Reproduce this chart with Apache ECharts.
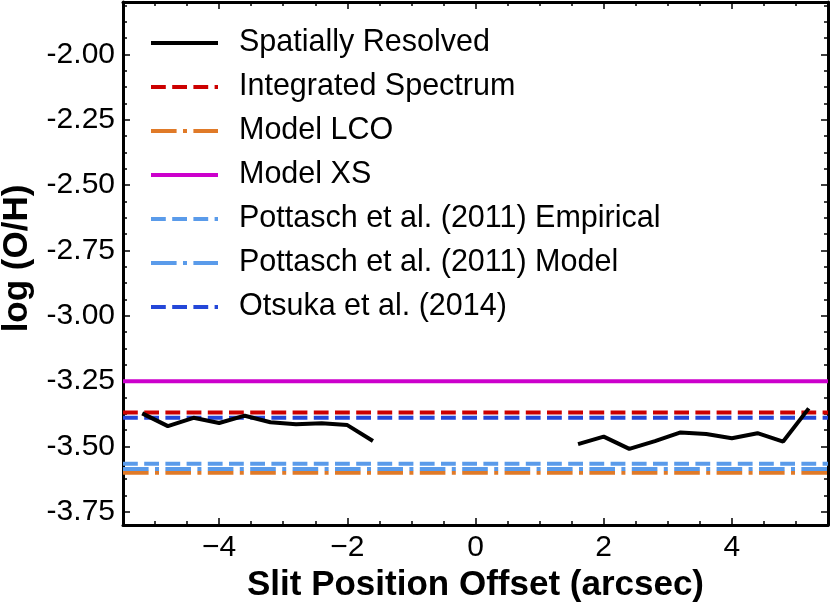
<!DOCTYPE html>
<html>
<head>
<meta charset="utf-8">
<script src="https://cdn.jsdelivr.net/npm/echarts@6/dist/echarts.min.js"></script>
<style>
html,body{margin:0;padding:0;background:#fff;}
#chart{width:831px;height:606px;}
</style>
</head>
<body>
<div id="chart"></div>
<script>
// ---- data ----
const offsetsLeft  = [-5.2, -4.8, -4.4, -4.0, -3.6, -3.2, -2.8, -2.4, -2.0, -1.6];
const logOHLeft    = [-3.373, -3.422, -3.390, -3.410, -3.382, -3.407, -3.415, -3.411, -3.418, -3.479];
const offsetsRight = [1.6, 2.0, 2.4, 2.8, 3.2, 3.6, 4.0, 4.4, 4.8, 5.2];
const logOHRight   = [-3.491, -3.462, -3.509, -3.479, -3.446, -3.452, -3.468, -3.449, -3.481, -3.354];

const refNames  = ['Integrated Spectrum', 'Model LCO', 'Model XS', 'Pottasch et al. (2011) Empirical', 'Pottasch et al. (2011) Model', 'Otsuka et al. (2014)'];
const refValues = [-3.37, -3.60, -3.25, -3.566, -3.586, -3.39];

const xTicks = [-4, -2, 0, 2, 4];
const yTicks = [-3.75, -3.50, -3.25, -3.00, -2.75, -2.50, -2.25, -2.00];
const xRange = [-5.5, 5.5];
const yRange = [-3.8, -1.8];

// ---- styles ----
const FONT = '"Liberation Sans", Arial, Helvetica, sans-serif';
const refColors = ['#cc0000', '#e07a28', '#cc00cc', '#5a9bea', '#5a9bea', '#2447d8'];
const LW = 4;
const dashed = [3.7 * LW, 1.6 * LW];
const dashdot = [6.4 * LW, 1.6 * LW, 1 * LW, 1.6 * LW];
const refTypes = [dashed, dashdot, 'solid', dashed, dashdot, dashed];

// minor tick positions
const xMinor = [];
for (let k = -11; k <= 11; k++) { const v = k * 0.5; if (v >= xRange[0] && v <= xRange[1] && xTicks.indexOf(v) < 0) xMinor.push(v); }
const yMinor = [];
for (let k = -64; k <= -28; k++) { const v = k * 0.0625; if (v >= yRange[0] - 1e-9 && v <= yRange[1] + 1e-9 && !yTicks.some(t => Math.abs(t - v) < 1e-9)) yMinor.push(v); }

const fmtX = v => (v < 0 ? '\u2212' + Math.abs(v) : String(v));
const fmtY = v => v.toFixed(2);

function mkX(pos, vals, major, showLine, showLabel) {
  return {
    type: 'value', position: pos, min: xRange[0], max: xRange[1],
    axisLine: { show: showLine, onZero: false, lineStyle: { color: '#000', width: 3 } },
    axisTick: { show: true, inside: true, length: major ? 7 : 4, customValues: vals, lineStyle: { color: '#000', width: 1.5 } },
    axisLabel: showLabel ? { show: true, customValues: vals, formatter: fmtX, color: '#000', fontSize: 30, fontFamily: FONT, margin: 8, hideOverlap: false } : { show: false },
    splitLine: { show: false }
  };
}
function mkY(pos, vals, major, showLine, showLabel) {
  return {
    type: 'value', position: pos, min: yRange[0], max: yRange[1],
    axisLine: { show: showLine, onZero: false, lineStyle: { color: '#000', width: 3 } },
    axisTick: { show: true, inside: true, length: major ? 7 : 4, customValues: vals, lineStyle: { color: '#000', width: 1.5 } },
    axisLabel: showLabel ? { show: true, customValues: vals, formatter: fmtY, color: '#000', fontSize: 30, fontFamily: FONT, margin: 8, hideOverlap: false } : { show: false },
    splitLine: { show: false }
  };
}

const xAxes = [
  Object.assign(mkX('bottom', xTicks, true, true, true), {
    name: 'Slit Position Offset (arcsec)', nameLocation: 'middle', nameGap: 35,
    nameTextStyle: { fontSize: 35, fontWeight: 'bold', color: '#000', fontFamily: FONT }
  }),
  mkX('bottom', xMinor, false, false, false),
  mkX('top', xTicks, true, true, false),
  mkX('top', xMinor, false, false, false)
];
const yAxes = [
  Object.assign(mkY('left', yTicks, true, true, true), {
    name: 'log (O/H)', nameLocation: 'middle', nameGap: 88,
    nameTextStyle: { fontSize: 35, fontWeight: 'bold', color: '#000', fontFamily: FONT, padding: [0, 0, 0, 10] }
  }),
  mkY('left', yMinor, false, false, false),
  mkY('right', yTicks, true, true, false),
  mkY('right', yMinor, false, false, false)
];

const resolvedData = offsetsLeft.map((x, i) => [x, logOHLeft[i]])
  .concat([[0, null]])
  .concat(offsetsRight.map((x, i) => [x, logOHRight[i]]));

const series = [{
  name: 'Spatially Resolved', type: 'line', data: resolvedData, connectNulls: false,
  showSymbol: false, symbol: 'none', z: 5,
  lineStyle: { color: '#000', width: LW }, itemStyle: { color: '#000' }
}];
refNames.forEach((n, i) => {
  series.push({
    name: n, type: 'line', showSymbol: false, symbol: 'none', z: 3,
    data: [[xRange[0], refValues[i]], [xRange[1], refValues[i]]],
    lineStyle: { color: refColors[i], width: LW, type: refTypes[i] },
    itemStyle: { color: refColors[i] }
  });
});

const chart = echarts.init(document.getElementById('chart'), null, { renderer: 'canvas' });
chart.setOption({
  animation: false,
  backgroundColor: '#fff',
  grid: { left: 123, right: 3, top: 2, bottom: 81, containLabel: false, outerBoundsMode: 'none' },
  xAxis: xAxes,
  yAxis: yAxes,
  legend: {
    orient: 'vertical', left: 149, top: 27.5, padding: 0,
    itemWidth: 67, itemHeight: 14, itemGap: 13,
    data: ['Spatially Resolved'].concat(refNames),
    itemStyle: { opacity: 0, borderWidth: 0 },
    lineStyle: { width: LW },
    textStyle: { fontSize: 30.5, lineHeight: 30, color: '#000', fontFamily: FONT, padding: [0, 0, 0, 16] }
  },
  series: series
});
</script>
</body>
</html>
